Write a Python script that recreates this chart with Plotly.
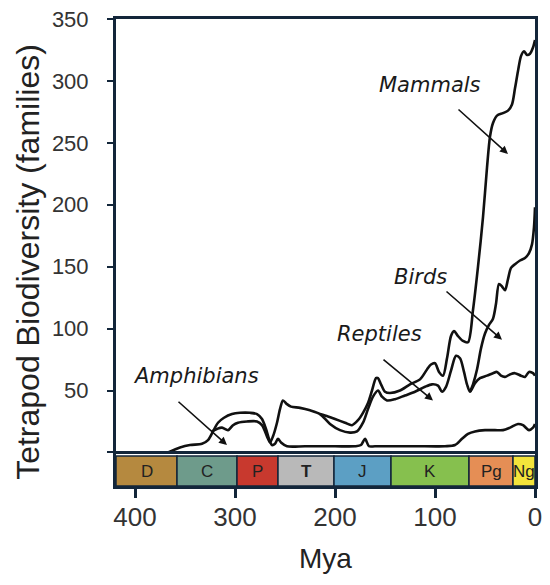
import plotly.graph_objects as go

# curve data: (million years ago, number of families)
amph_mya = [367, 355, 345, 333, 327, 322, 317, 311, 303, 295, 285, 278, 273, 269, 266, 263,
            260, 257, 254, 248, 230, 200, 180, 174, 170, 166, 160, 120, 90, 80, 73, 67, 60,
            50, 40, 32, 25, 17, 12, 6, 2, 0]
amph_fam = [0, 4, 6, 7, 10, 17, 24, 28, 31, 32, 32, 31, 27, 19, 11, 6,
            7, 11, 8, 5, 5, 5, 5, 6, 11, 5, 5, 5, 5, 6, 11, 15, 17,
            18, 18, 18, 20, 23, 22, 18, 20, 23]

rept_mya = [323, 318, 313, 307, 302, 297, 288, 278, 273, 270, 267, 265, 262, 258, 255, 252,
            248, 244, 235, 225, 215, 205, 195, 185, 178, 172, 167, 162, 157, 153, 148, 140,
            130, 120, 110, 103, 97, 93, 89, 84, 79, 75, 71, 68, 65, 60, 55, 48, 42, 38, 34,
            30, 25, 20, 14, 10, 6, 2, 0]
rept_fam = [17, 19, 20, 18, 22, 24, 25, 25, 22, 17, 11, 8, 13, 24, 35, 42,
            39, 37, 36, 34, 31, 23, 18, 16, 17, 24, 35, 45, 50, 45, 42, 43,
            46, 49, 53, 55, 54, 49, 53, 66, 78, 76, 65, 55, 49, 56, 60, 62, 64, 65, 62,
            61, 63, 64, 62, 61, 65, 64, 62]

bird_mya = [65, 62, 58, 54, 50, 46, 42, 39, 36, 33, 30, 27, 24, 20, 15, 10, 6, 3, 1, 0]
bird_fam = [49, 55, 67, 84, 96, 103, 108, 120, 136, 134, 131, 140, 149, 152, 155, 157, 161,
            168, 182, 198]

mamm_mya = [215, 207, 200, 190, 183, 177, 172, 167, 163, 159, 157, 154, 150, 145, 135, 125,
            115, 108, 104, 100, 96, 92, 88, 84, 81, 77, 72, 67, 62, 57, 52, 48, 45, 42, 38,
            32, 27, 23, 20, 17, 14, 11, 8, 5, 2, 0]
mamm_fam = [31, 29, 27, 24, 22, 26, 32, 40, 50, 60, 60, 55, 49, 48, 50, 55,
            59, 67, 71, 72, 65, 62, 76, 94, 98, 94, 90, 89, 115, 150, 190, 230, 255, 266, 272,
            274, 276, 281, 294, 308, 320, 324, 321, 322, 327, 333]

# geological periods
periods = ["D", "C", "P", "T", "J", "K", "Pg", "Ng"]
period_start = [419, 358, 298, 257, 201, 144, 66, 22]
period_end = [358, 298, 257, 201, 144, 66, 22, 0]
period_colors = ["#b5893f", "#6e9b8b", "#c8392e", "#b9b9b9", "#5c9fc4", "#86c04e",
                 "#e58e55", "#f3e43b"]

x_ticks = [400, 300, 200, 100, 0]
y_ticks = [0, 50, 100, 150, 200, 250, 300, 350]

frame = "#13263a"
ink = "#111111"

fig = go.Figure()
for name, xs, ys in [("Amphibians", amph_mya, amph_fam),
                     ("Reptiles", rept_mya, rept_fam),
                     ("Birds", bird_mya, bird_fam),
                     ("Mammals", mamm_mya, mamm_fam)]:
    fig.add_trace(go.Scatter(x=xs, y=ys, mode="lines", name=name,
                             line=dict(color=ink, width=2.6, shape="spline", smoothing=0.8),
                             showlegend=False, hoverinfo="skip"))

# period strip below the zero line
for lab, a, b, c in zip(periods, period_start, period_end, period_colors):
    fig.add_shape(type="rect", xref="x", yref="y", x0=a, x1=b, y0=-27.1, y1=-2.8,
                  fillcolor=c, line=dict(color=frame, width=1.5), layer="above")
    fig.add_annotation(x=(a + b) / 2, y=-15, xref="x", yref="y", text=lab,
                       showarrow=False,
                       font=dict(family="Liberation Sans", size=17, color="#222",
                                 weight="bold" if lab == "T" else "normal"))

fig.add_shape(type="line", xref="x", yref="y", x0=419, x1=0, y0=0, y1=0,
              line=dict(color=frame, width=3))

# group labels and arrows
labels = [("Mammals", 105, 297, 78, 278, 27, 241),
          ("Birds", 115, 142, 90, 131, 33, 91),
          ("Reptiles", 156, 96, 153, 76, 102, 42),
          ("Amphibians", 339, 62, 358, 42, 308, 6)]
for txt, lx, ly, tx, ty, hx, hy in labels:
    fig.add_annotation(x=lx, y=ly, xref="x", yref="y", text=txt, showarrow=False,
                       font=dict(family="DejaVu Sans", size=21, color="#1a1a1a",
                                 style="italic"))
    fig.add_annotation(x=hx, y=hy, ax=tx, ay=ty, xref="x", yref="y", axref="x", ayref="y",
                       text="", showarrow=True, arrowhead=2, arrowsize=1, arrowwidth=1.6,
                       arrowcolor=ink)

# y title as a rotated annotation so it can sit a bit below centre like the original
fig.add_annotation(x=-0.21, y=0.48, xref="paper", yref="paper", textangle=-90,
                   text="Tetrapod Biodiversity (families)", showarrow=False,
                   xanchor="center", yanchor="middle",
                   font=dict(family="Liberation Sans", size=32, color="#222"))

# the page puts the plot 8px in from the corner, so margins are shifted by that
fig.update_layout(
    width=550, height=585,
    margin=dict(l=108, r=23, t=11, b=107),
    plot_bgcolor="white", paper_bgcolor="white",
    font=dict(family="Liberation Sans", color="#333"),
)
fig.update_xaxes(range=[419, 0], tickvals=x_ticks, ticks="outside", ticklen=9,
                 tickwidth=2.5, tickcolor=frame, showline=True, linewidth=3,
                 linecolor=frame, mirror=True, showgrid=False, zeroline=False,
                 automargin=False, ticklabelstandoff=-3, ticklabeloverflow="allow",
                 tickfont=dict(size=26, color="#333"),
                 title=dict(text="Mya", font=dict(size=28, color="#222"), standoff=18))
fig.update_yaxes(range=[-27.1, 350], tickvals=y_ticks,
                 ticktext=[""] + [str(v) for v in y_ticks[1:]],
                 ticks="outside", ticklen=6, tickwidth=1.5, tickcolor=frame,
                 showline=True, linewidth=3, linecolor=frame, mirror=True,
                 showgrid=False, zeroline=False, automargin=False, ticklabelstandoff=14,
                 ticklabeloverflow="allow",
                 tickfont=dict(size=22, color="#333"))

fig.write_html("out.html")
